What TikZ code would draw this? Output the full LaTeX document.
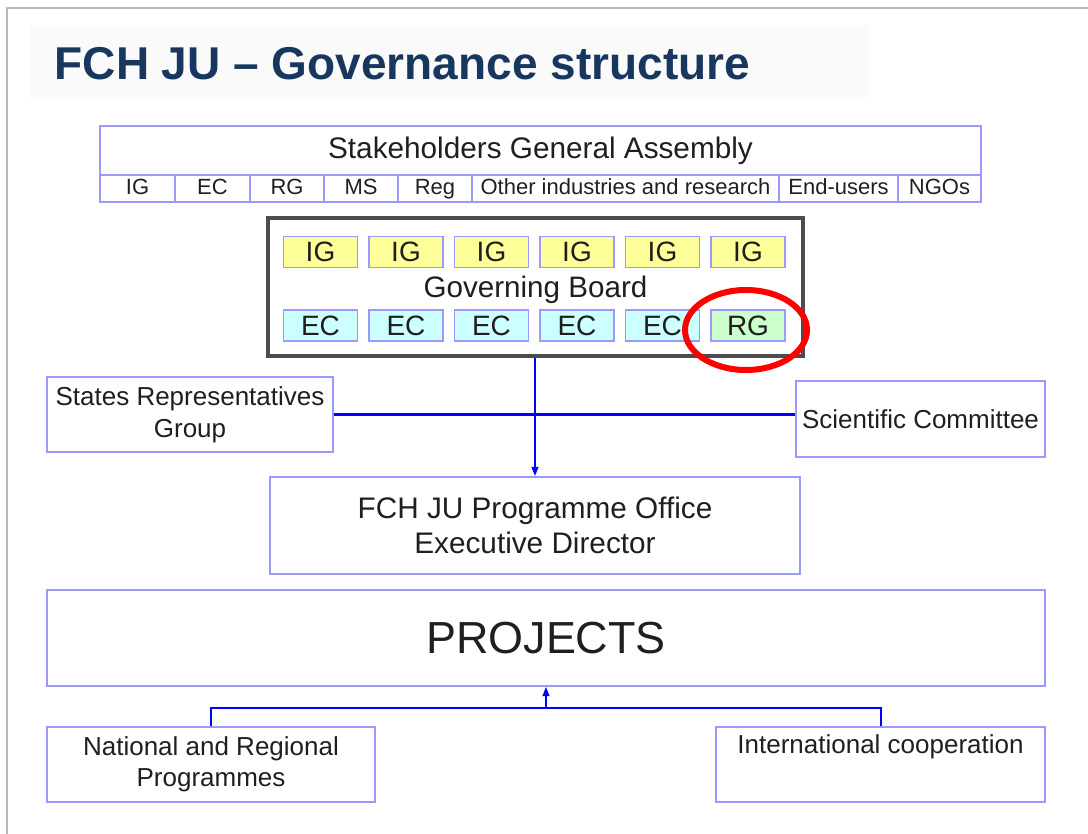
\documentclass[tikz,border=0pt]{standalone}
\usepackage{fontspec}
\setmainfont{Liberation Sans}
\usetikzlibrary{arrows.meta}
\definecolor{boxline}{HTML}{9999FF}
\definecolor{titleblue}{HTML}{17375E}
\definecolor{igfill}{HTML}{FFFF99}
\definecolor{ecfill}{HTML}{CCFFFF}
\definecolor{rgfill}{HTML}{CCFFCC}
\definecolor{linkblue}{HTML}{0000FF}
\newcommand{\fs}[2]{\fontsize{#1}{#2}\selectfont}
\tikzset{
  orgbox/.style={draw=boxline,line width=1.2pt,inner sep=0pt,align=center,text=black!88},
  cell/.style={orgbox,minimum height=20.25pt,text height=11.8pt,text depth=3.4pt,font=\fs{16.5}{18}},
  seat/.style={orgbox,minimum width=55.5pt,minimum height=23.5pt,font=\fs{21}{22}},
  sidebox/.style={orgbox,minimum height=56.5pt,font=\fs{19.5}{24}},
  link/.style={draw=linkblue,line width=1.8pt},
}
\begin{document}
\begin{tikzpicture}[x=0.75pt,y=-0.75pt]
\useasboundingbox (0,0) rectangle (1088,834);
\draw[gray!55,line width=1.8pt] (7,834) -- (7,8) -- (1095,8);
\fill[black!2] (30,25) rectangle (868,97);
\node[anchor=base west,font=\fs{34.5}{36}\bfseries,text=titleblue] (title) at (50,80) {FCH JU – Governance structure};
\node[orgbox,minimum width=660.75pt,minimum height=36.75pt,font=\fs{22.3}{24}] (sga) at (540.5,150.5) {Stakeholders General Assembly};
\foreach \l/\r/\t [count=\i] in {100/175/IG,175/250/EC,250/324/RG,324/398/MS,398/472/Reg,472/779/Other industries and research,779/898/End-users,898/981/NGOs}
  \node[cell,minimum width={(\r-\l)*0.75pt}] (cell\i) at ({(\l+\r)/2},188.5) {\t};
\node[draw=black!70,line width=3pt,minimum width=401.25pt,minimum height=103.5pt] (gb) at (535.5,287) {};
\node[font=\fs{22.2}{24},text=black!88] (gbname) at (535.5,290) {Governing Board};
\foreach \i in {0,...,5}
  \node[seat,fill=igfill] (ig\i) at ({320.5+85.5*\i},252) {IG};
\foreach \i in {0,...,4}
  \node[seat,fill=ecfill] (ec\i) at ({320.5+85.5*\i},325.5) {EC};
\node[seat,fill=rgfill] (rg) at (748,325.5) {RG};
\draw[red,line width=4.5pt] (746,330) ellipse [x radius=61,y radius=40];
\node[sidebox,minimum width=214.5pt] (srg) at (190,414.5) {States Representatives\\Group};
\node[sidebox,minimum width=186.75pt,minimum height=57pt] (sc) at (920.5,419) {Scientific Committee};
\node[orgbox,minimum width=397.5pt,minimum height=72.75pt,font=\fs{22.3}{26}] (po) at (535,525.5) {FCH JU Programme Office\\Executive Director};
\node[orgbox,minimum width=748.5pt,minimum height=72pt,font=\fs{33.7}{36}] (proj) at (546,638) {PROJECTS};
\node[sidebox,minimum width=246pt,font=\fs{19.5}{23}] (nrp) at (211,764.5) {National and Regional\\Programmes};
\node[sidebox,minimum width=246.75pt,font=\fs{19.5}{23}] (ic) at (880.5,764.5) {International cooperation\\\strut};
\draw[link] (srg.east) -- (srg.east -| sc.west);
\draw[link,-{Triangle[length=7pt,width=5pt]}] (gb.south -| po.north) -- (po.north);
\coordinate (join) at (proj.south |- 0,708);
\draw[link,line width=1.5pt] (nrp.north) |- (join) -| (ic.north);
\draw[link,line width=1.5pt,-{Triangle[length=7pt,width=5pt]}] (join) -- (proj.south);
\end{tikzpicture}
\end{document}
